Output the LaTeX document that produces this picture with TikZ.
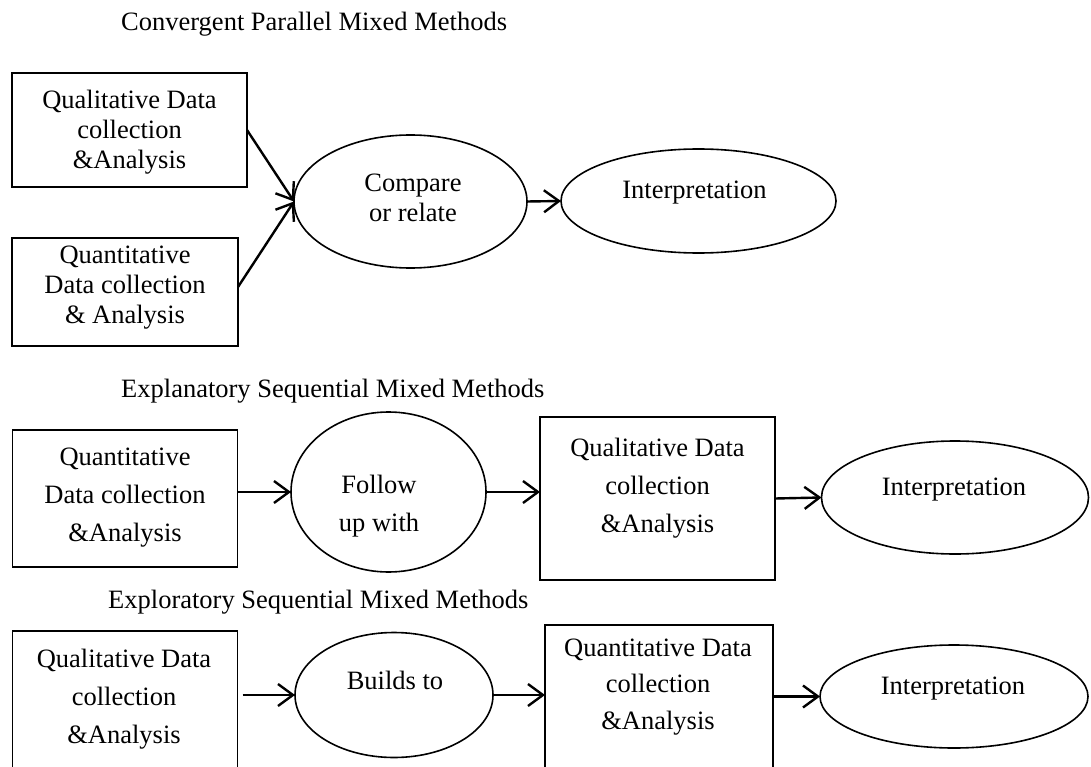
\documentclass[tikz,border=0pt]{standalone}
\usepackage{fontspec}
\setmainfont{Liberation Serif}
\usetikzlibrary{shapes.geometric,arrows.meta}
\begin{document}
\begin{tikzpicture}[x=1pt,y=-1pt,
  boxshape/.style={draw, line width=1.8pt, rectangle, inner sep=0pt, outer sep=0pt},
  oval/.style={draw, line width=1.6pt, ellipse, inner sep=0pt, outer sep=0pt},
  lbl/.style={align=center, inner sep=0pt, font=\fontsize{26.5}{30}\selectfont},
  lblwide/.style={lbl, font=\fontsize{26.5}{38}\selectfont},
  heading/.style={anchor=base west, inner sep=0pt, font=\fontsize{26.5}{30}\selectfont},
  flow/.style={-{Straight Barb[length=15pt,width=22pt]}, line width=2.4pt},
]
\useasboundingbox (0,0) rectangle (1091,767);
\clip (0,0) rectangle (1091,767);

% headings
\node[heading] (t1) at (121,31) {Convergent Parallel Mixed Methods};
\node[heading] (t2) at (121,397) {Explanatory Sequential Mixed Methods};
\node[heading] (t3) at (108,608) {Exploratory Sequential Mixed Methods};

% convergent parallel
\node[boxshape, minimum width=235, minimum height=114] (qa) at (129.5,130) {};
\node[lbl] (qat) at (129.5,132) {Qualitative Data\\collection\\\&Analysis};
\node[boxshape, minimum width=226, minimum height=108] (qb) at (125,292) {};
\node[lbl] (qbt) at (125,288) {Quantitative\\Data collection\\\& Analysis};
\node[oval, minimum width=233, minimum height=133] (cmp) at (410.5,201.5) {};
\node[lbl] (cmpt) at (413,197.5) {Compare\\or relate};
\node[oval, minimum width=275, minimum height=104] (i1) at (698.5,201) {};
\node[lbl] (i1t) at (694.5,193) {Interpretation};
\draw[flow] (qa.east) -- (cmp.west);
\draw[flow] ([yshift=5pt]qb.east) -- (cmp.west);
\draw[flow] (cmp.east) -- (i1.west);

% explanatory sequential
\node[boxshape, minimum width=225, minimum height=137] (q2) at (125,498.5) {};
\node[lblwide] (q2t) at (125,497.5) {Quantitative\\Data collection\\\&Analysis};
\node[oval, minimum width=195, minimum height=160] (fu) at (388.5,492) {};
\node[lblwide] (fut) at (379,506) {Follow\\up with};
\node[boxshape, minimum width=235, minimum height=163] (l2) at (657.5,498.5) {};
\node[lblwide] (l2t) at (657.5,488.5) {Qualitative Data\\collection\\\&Analysis};
\node[oval, minimum width=267, minimum height=113] (i2) at (955,497.5) {};
\node[lbl] (i2t) at (954,490) {Interpretation};
\draw[flow] (q2.east |- fu.west) -- (fu.west);
\draw[flow] (fu.east) -- (l2.west |- fu.east);
\draw[flow] (l2.east) -- (i2.west);

% exploratory sequential
\node[boxshape, minimum width=225, minimum height=160] (l3) at (125,711) {};
\node[lblwide] (l3t) at (124,699.5) {Qualitative Data\\collection\\\&Analysis};
\node[oval, minimum width=198, minimum height=125] (bt) at (394,695) {};
\node[lbl] (btt) at (395,680) {Builds to};
\node[boxshape, minimum width=228, minimum height=166] (n3) at (659,708) {};
\node[lbl, font=\fontsize{26.5}{36.5}\selectfont] (n3t) at (658,687) {Quantitative Data\\collection\\\&Analysis};
\node[oval, minimum width=268, minimum height=103] (i3) at (954,696.5) {};
\node[lbl] (i3t) at (953,689) {Interpretation};
\draw[flow, shorten <=5pt] (l3.east |- bt.west) -- (bt.west);
\draw[flow] (bt.east) -- (n3.west |- bt.east);
\draw[flow] (n3.east |- i3.west) -- (i3.west);
\end{tikzpicture}
\end{document}
